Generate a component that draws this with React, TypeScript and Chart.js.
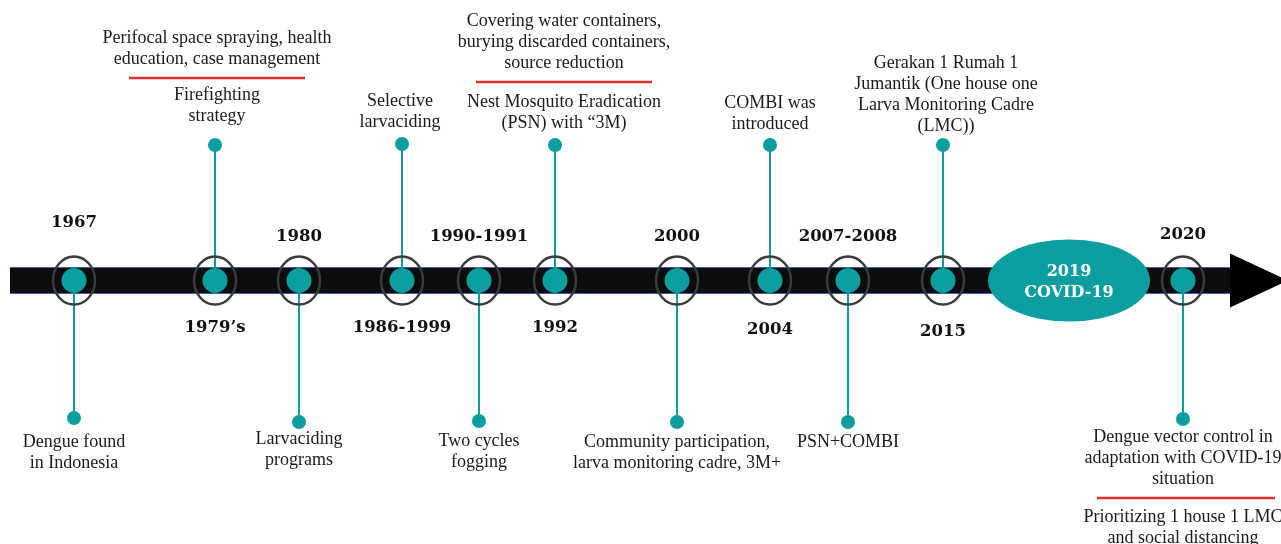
import React, { useEffect, useRef } from "react";
import { Chart, registerables } from "chart.js";

Chart.register(...registerables);

const W = 1281;
const H = 544;

// ---- data ----
const eventYears = ["1967", "1979\u2019s", "1980", "1986-1999", "1990-1991", "1992", "2000", "2004", "2007-2008", "2015", "2020"];
const eventPos = [74, 215, 299, 402, 479, 555, 677, 770, 848, 943, 1183];
const stemEnd = [418, 145, 422, 144, 421, 145, 422, 145, 422, 145, 419];
const descriptions: string[][] = [
  ["Dengue found", "in Indonesia"],
  ["Firefighting", "strategy"],
  ["Larvaciding", "programs"],
  ["Selective", "larvaciding"],
  ["Two cycles", "fogging"],
  ["Nest Mosquito Eradication", "(PSN) with \u201C3M)"],
  ["Community participation,", "larva monitoring cadre, 3M+"],
  ["COMBI was", "introduced"],
  ["PSN+COMBI"],
  ["Gerakan 1 Rumah 1", "Jumantik (One house one", "Larva Monitoring Cadre", "(LMC))"],
  ["Dengue vector control in", "adaptation with COVID-19", "situation"],
];
const details: string[][] = [
  [],
  ["Perifocal space spraying, health", "education, case management"],
  [],
  [],
  [],
  ["Covering water containers,", "burying discarded containers,", "source reduction"],
  [],
  [],
  [],
  [],
  ["Prioritizing 1 house 1 LMC", "and social distancing"],
];
const covidLabel = ["2019", "COVID-19"];
const covidPos = 1069;

// ---- layout / style ----
const BAR_Y = 280.5;
const BAR_START = 10;
const BAR_END = 1230;
const TEAL = "#0a9e9f";
const RED = "#e0312f";
const BODY_FONT = '18px "Liberation Serif", serif';
const YEAR_FONT = 'bold 16.5px "DejaVu Serif", serif';
const LINE_H = 21;
const textShift = [0, 2, 0, -2, 0, 9, 0, 0, 0, 3, 0];
const textLift = [-4, 7, 3, 0, 0, 0, 0, -1, 0, -3, 2];
const yearLift = [14, 0, 0, 0, 0, 0, 0, -2, 0, -4, 2];
const redGap = [0, 17, 0, 0, 0, 20, 0, 0, 0, 0, 19];

const timelinePlugin = {
  id: "timeline",
  beforeDatasetsDraw(chart: any) {
    const { ctx } = chart;
    const xs = chart.scales.x;
    const ys = chart.scales.y;
    const X = (v: number) => xs.getPixelForValue(v);
    const Y = (v: number) => ys.getPixelForValue(v);
    ctx.save();
    // bar
    const top = Y(BAR_Y) - 13.5;
    const bot = Y(BAR_Y) + 13.5;
    ctx.fillStyle = "#0c0c0c";
    ctx.fillRect(X(BAR_START), top, X(BAR_END) - X(BAR_START), bot - top);
    ctx.strokeStyle = "#3f5fa8";
    ctx.lineWidth = 1;
    ctx.beginPath();
    ctx.moveTo(X(BAR_START), top + 0.5);
    ctx.lineTo(X(BAR_END), top + 0.5);
    ctx.moveTo(X(BAR_START), bot - 0.5);
    ctx.lineTo(X(BAR_END), bot - 0.5);
    ctx.stroke();
    // arrow head
    ctx.fillStyle = "#000";
    ctx.beginPath();
    ctx.moveTo(X(BAR_END), Y(BAR_Y) - 27);
    ctx.lineTo(X(BAR_END + 58), Y(BAR_Y));
    ctx.lineTo(X(BAR_END), Y(BAR_Y) + 27);
    ctx.closePath();
    ctx.fill();
    // stems
    ctx.strokeStyle = TEAL;
    ctx.lineWidth = 2;
    eventPos.forEach((x, i) => {
      ctx.beginPath();
      ctx.moveTo(X(x), Y(BAR_Y));
      ctx.lineTo(X(x), Y(stemEnd[i]));
      ctx.stroke();
    });
    // rings
    ctx.strokeStyle = "#3b3b3b";
    ctx.lineWidth = 2.5;
    eventPos.forEach((x) => {
      ctx.beginPath();
      ctx.ellipse(X(x), Y(BAR_Y), 21, 24, 0, 0, Math.PI * 2);
      ctx.stroke();
    });
    // covid ellipse
    ctx.fillStyle = TEAL;
    ctx.beginPath();
    ctx.ellipse(X(covidPos), Y(BAR_Y), 81, 41, 0, 0, Math.PI * 2);
    ctx.fill();
    ctx.fillStyle = "#fff";
    ctx.font = 'bold 16px "DejaVu Serif", serif';
    ctx.textAlign = "center";
    ctx.textBaseline = "middle";
    ctx.fillText(covidLabel[0], X(covidPos), Y(BAR_Y) - 9);
    ctx.fillText(covidLabel[1], X(covidPos), Y(BAR_Y) + 12);
    ctx.restore();
  },
  afterDatasetsDraw(chart: any) {
    const { ctx } = chart;
    const xs = chart.scales.x;
    const ys = chart.scales.y;
    const X = (v: number) => xs.getPixelForValue(v);
    const Y = (v: number) => ys.getPixelForValue(v);
    ctx.save();
    ctx.textAlign = "center";
    ctx.textBaseline = "middle";
    eventPos.forEach((x, i) => {
      const up = stemEnd[i] < BAR_Y;
      const cx = X(x);
      // year label
      ctx.font = YEAR_FONT;
      ctx.fillStyle = "#111";
      const yy = up ? Y(BAR_Y) + 47 - yearLift[i] : Y(BAR_Y) - 44 - yearLift[i];
      ctx.fillText(eventYears[i], cx, yy);
      // description
      ctx.font = BODY_FONT;
      ctx.fillStyle = "#1a1a1a";
      const lines = descriptions[i];
      const tx = cx + textShift[i];
      const dotY = Y(stemEnd[i]);
      let firstY: number;
      let lastY: number;
      if (up) {
        lastY = dotY - 22 - textLift[i];
        firstY = lastY - (lines.length - 1) * LINE_H;
      } else {
        firstY = dotY + 20 - textLift[i];
        lastY = firstY + (lines.length - 1) * LINE_H;
      }
      lines.forEach((t, k) => ctx.fillText(t, tx, firstY + k * LINE_H));
      const extra = details[i];
      if (extra.length) {
        ctx.strokeStyle = RED;
        ctx.lineWidth = 2.5;
        if (up) {
          const ry = firstY - redGap[i];
          ctx.beginPath();
          ctx.moveTo(tx - 88, ry);
          ctx.lineTo(tx + 88, ry);
          ctx.stroke();
          const eLast = ry - 18.5;
          const eFirst = eLast - (extra.length - 1) * LINE_H;
          extra.forEach((t, k) => ctx.fillText(t, tx, eFirst + k * LINE_H));
        } else {
          const ry = lastY + redGap[i];
          ctx.beginPath();
          ctx.moveTo(tx - 86, ry);
          ctx.lineTo(tx + 92, ry);
          ctx.stroke();
          const eFirst = ry + 19;
          extra.forEach((t, k) => ctx.fillText(t, tx, eFirst + k * LINE_H));
        }
      }
    });
    ctx.restore();
  },
};

export default function App() {
  const ref = useRef<HTMLCanvasElement | null>(null);
  useEffect(() => {
    if (!ref.current) return;
    const chart = new Chart(ref.current, {
      type: "scatter",
      data: {
        datasets: [
          {
            label: "nodes",
            data: eventPos.map((x) => ({ x, y: BAR_Y })),
            pointRadius: 12.5,
            pointHoverRadius: 12.5,
            backgroundColor: TEAL,
            borderWidth: 0,
          },
          {
            label: "stem ends",
            data: eventPos.map((x, i) => ({ x, y: stemEnd[i] })),
            pointRadius: 7,
            pointHoverRadius: 7,
            backgroundColor: TEAL,
            borderWidth: 0,
          },
        ],
      },
      options: {
        animation: false,
        responsive: true,
        maintainAspectRatio: false,
        layout: { padding: 0, autoPadding: false },
        events: [],
        plugins: { legend: { display: false }, tooltip: { enabled: false }, title: { display: false } },
        scales: {
          x: { type: "linear", min: 0, max: W, display: false },
          y: { type: "linear", min: 0, max: H, reverse: true, display: false },
        },
      },
      plugins: [timelinePlugin],
    });
    return () => chart.destroy();
  }, []);
  return (
    <div style={{ position: "fixed", left: 0, top: 0, width: W, height: H, background: "#fff" }}>
      <canvas ref={ref} />
    </div>
  );
}
